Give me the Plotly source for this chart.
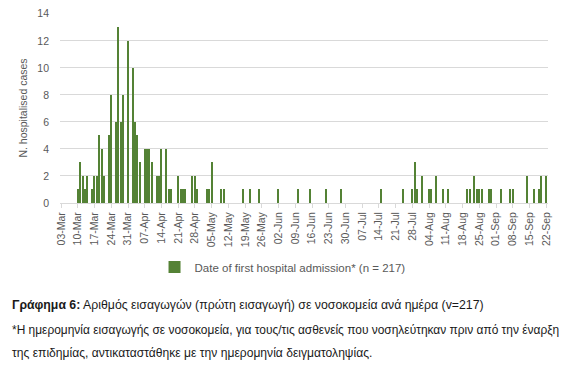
import plotly.graph_objects as go

# ---- data ----
admission_dates = [
    "2020-03-10", "2020-03-11", "2020-03-12", "2020-03-13", "2020-03-14", "2020-03-16",
    "2020-03-17", "2020-03-18", "2020-03-19", "2020-03-20", "2020-03-21", "2020-03-23",
    "2020-03-24", "2020-03-26", "2020-03-27", "2020-03-28", "2020-03-29", "2020-03-31",
    "2020-04-02", "2020-04-03", "2020-04-04", "2020-04-05", "2020-04-07", "2020-04-08",
    "2020-04-09", "2020-04-10", "2020-04-12", "2020-04-13", "2020-04-14", "2020-04-16",
    "2020-04-17", "2020-04-18", "2020-04-21", "2020-04-22", "2020-04-23", "2020-04-24",
    "2020-04-27", "2020-04-28", "2020-04-29", "2020-05-03", "2020-05-04", "2020-05-05",
    "2020-05-09", "2020-05-10", "2020-05-18", "2020-05-21", "2020-05-25", "2020-06-02",
    "2020-06-10", "2020-06-15", "2020-06-22", "2020-06-28", "2020-07-15", "2020-07-24",
    "2020-07-28", "2020-07-29", "2020-07-30", "2020-08-01", "2020-08-04", "2020-08-05",
    "2020-08-07", "2020-08-10", "2020-08-12", "2020-08-20", "2020-08-21", "2020-08-23",
    "2020-08-24", "2020-08-25", "2020-08-26", "2020-08-29", "2020-08-30", "2020-09-03",
    "2020-09-07", "2020-09-08", "2020-09-14", "2020-09-17", "2020-09-19", "2020-09-20",
    "2020-09-22",
]
hospitalised_cases = [
    1, 3, 2, 1, 2, 1,
    2, 2, 5, 4, 2, 5,
    8, 6, 13, 6, 8, 12,
    10, 6, 5, 3, 4, 4,
    4, 3, 2, 2, 4, 4,
    1, 1, 2, 1, 1, 1,
    2, 2, 1, 1, 1, 3,
    1, 1, 1, 1, 1, 1,
    1, 1, 1, 1, 1, 1,
    1, 3, 1, 2, 1, 1,
    2, 1, 1, 1, 1, 2,
    1, 1, 1, 1, 1, 1,
    1, 1, 2, 1, 1, 2,
    2,
]
tick_dates = [
    "2020-03-03", "2020-03-10", "2020-03-17", "2020-03-24", "2020-03-31", "2020-04-07",
    "2020-04-14", "2020-04-21", "2020-04-28", "2020-05-05", "2020-05-12", "2020-05-19",
    "2020-05-26", "2020-06-02", "2020-06-09", "2020-06-16", "2020-06-23", "2020-06-30",
    "2020-07-07", "2020-07-14", "2020-07-21", "2020-07-28", "2020-08-04", "2020-08-11",
    "2020-08-18", "2020-08-25", "2020-09-01", "2020-09-08", "2020-09-15", "2020-09-22",
]
tick_labels = [
    "03-Mar", "10-Mar", "17-Mar", "24-Mar", "31-Mar", "07-Apr",
    "14-Apr", "21-Apr", "28-Apr", "05-May", "12-May", "19-May",
    "26-May", "02-Jun", "09-Jun", "16-Jun", "23-Jun", "30-Jun",
    "07-Jul", "14-Jul", "21-Jul", "28-Jul", "04-Aug", "11-Aug",
    "18-Aug", "25-Aug", "01-Sep", "08-Sep", "15-Sep", "22-Sep",
]
series_name = "Date of first hospital admission* (n = 217)"
y_title = "N. hospitalised cases"
caption_bold = "Γράφημα 6:"
caption_rest = " Αριθμός εισαγωγών (πρώτη εισαγωγή) σε νοσοκομεία ανά ημέρα (v=217)"
note_line1 = "*Η ημερομηνία εισαγωγής σε νοσοκομεία, για τους/τις ασθενείς που νοσηλεύτηκαν πριν από την έναρξη"
note_line2 = "της επιδημίας, αντικαταστάθηκε με την ημερομηνία δειγματοληψίας."

GREEN = "#548235"
GRID = "#D9D9D9"
TXT = "#595959"
DAY_MS = 86400000
FONT = "Liberation Sans, Arial, sans-serif"

fig = go.Figure()
fig.add_trace(go.Bar(
    x=admission_dates, y=hospitalised_cases, name=series_name,
    marker=dict(color=GREEN, line=dict(width=0)),
    width=0.55 * DAY_MS, showlegend=True,
))

# page body has an 8px default margin, so the figure is sized 8px smaller
fig.update_layout(
    width=563, height=363,
    margin=dict(l=52, r=23, t=5, b=168, autoexpand=False),
    paper_bgcolor="white", plot_bgcolor="white",
    font=dict(family=FONT, color=TXT, size=10),
    showlegend=True,
    legend=dict(orientation="h", x=0.456, xanchor="center", y=-0.337, yanchor="middle",
                font=dict(size=11.5, color=TXT), itemwidth=30, bgcolor="rgba(0,0,0,0)"),
    bargap=0,
)
fig.update_xaxes(
    type="date", automargin=False,
    range=["2020-03-02 12:00", "2020-09-22 18:00"],
    tickvals=tick_dates, ticktext=tick_labels, tickangle=-90,
    tickfont=dict(size=10.5, color=TXT),
    showgrid=False, showline=True, linecolor=GRID, linewidth=1,
    ticks="outside", ticklen=4, tickcolor=GRID,
    zeroline=False,
)
fig.update_yaxes(
    range=[0, 14.06], tickvals=[0, 2, 4, 6, 8, 10, 12, 14],
    showgrid=True, gridcolor=GRID, gridwidth=1,
    zeroline=False, showline=False, automargin=False, ticklabeloverflow="allow",
    tickfont=dict(size=10.5, color=TXT), ticklabelstandoff=10,
    title=dict(text=y_title, font=dict(size=10.5, color=TXT), standoff=7),
)

for yy, txt, fs in [(-0.537, "<b>" + caption_bold + "</b>" + caption_rest, 12.3),
                    (-0.669, note_line1, 11.95),
                    (-0.79, note_line2, 12.1)]:
    fig.add_annotation(
        xref="paper", yref="paper", x=-0.1025, y=yy, xanchor="left", yanchor="middle",
        text=txt, showarrow=False,
        font=dict(family=FONT, size=fs, color="#1a1a1a"),
    )

fig.write_html("out.html")
